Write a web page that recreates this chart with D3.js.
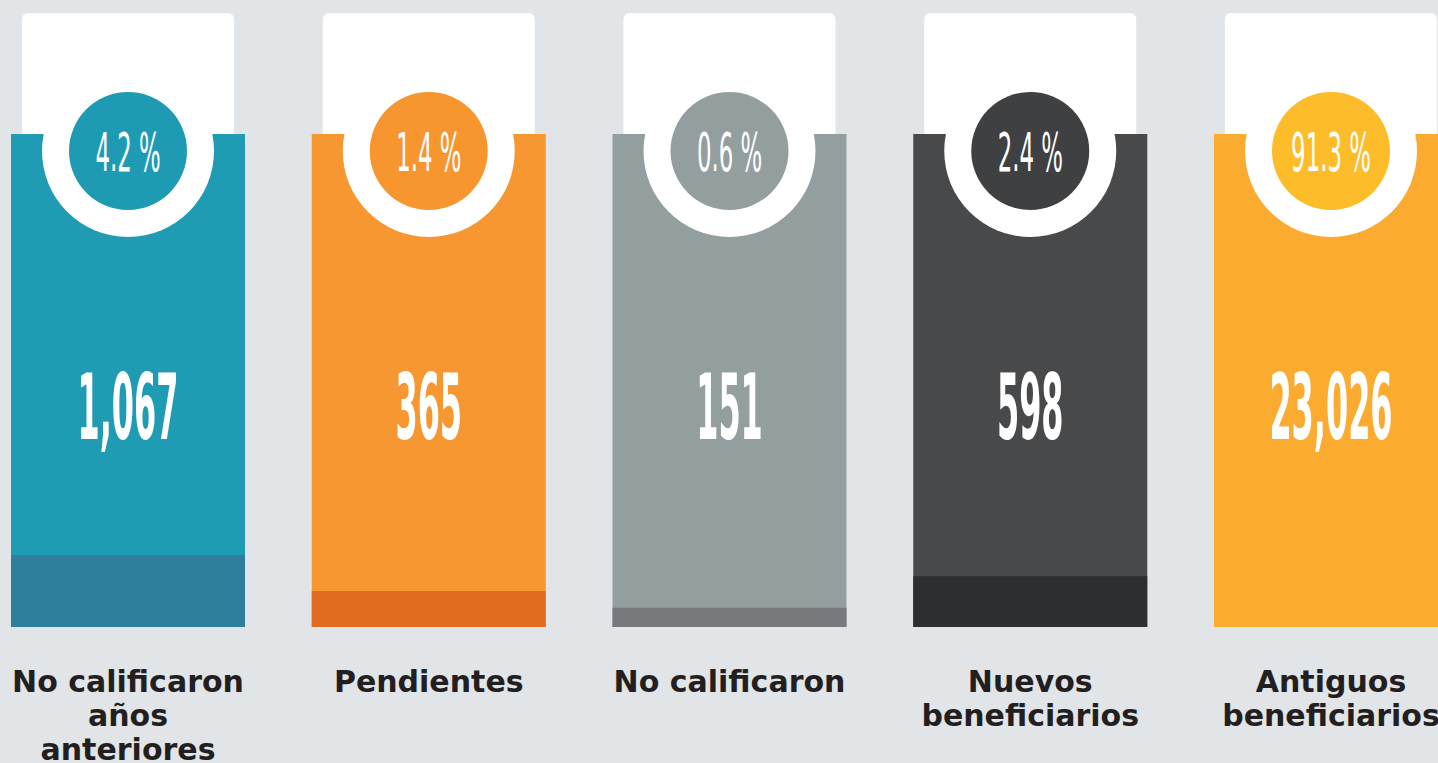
<!DOCTYPE html>
<html>
<head>
<meta charset="utf-8">
<script src="https://cdn.jsdelivr.net/npm/d3@7"></script>
<style>
  html, body { margin: 0; padding: 0; background: #e1e5e8; overflow: hidden; }
</style>
</head>
<body>
<div id="root"></div>
<script>
const w = 1438, h = 763

// data
const categories = ["No calificaron años anteriores", "Pendientes", "No calificaron", "Nuevos beneficiarios", "Antiguos beneficiarios"]
const labelLines = [["No calificaron", "años", "anteriores"], ["Pendientes"], ["No calificaron"], ["Nuevos", "beneficiarios"], ["Antiguos", "beneficiarios"]]
const counts = [1067, 365, 151, 598, 23026]
const percents = ["4.2 %", "1.4 %", "0.6 %", "2.4 %", "91.3 %"]
// darker band at the foot of each bar, as share of the bar height
const shadeShare = [0.146, 0.073, 0.039, 0.103, 0]

const barColors = ["#1f9bb4", "#f79731", "#939e9f", "#48494b", "#faab30"]
const shadeColors = ["#2e7e9c", "#e06c1f", "#78797c", "#2d2e30", "#faab30"]
const circleColors = ["#1e9bb3", "#f7962f", "#939e9f", "#3f4042", "#fdbd2b"]

//scales
const xscale = d3.scalePoint()
    .domain(d3.range(categories.length))
    .range([128, 1331])

const barTop = 134, barBottom = 627, barW = 234, cardW = 212, cardTop = 13
const shadeScale = d3.scaleLinear()
    .domain([0, 1])
    .range([0, barBottom - barTop])

const fmt = d3.format(",")

const rows = categories.map((c, i) => ({
    i: i,
    name: c,
    lines: labelLines[i],
    count: counts[i],
    pct: percents[i],
    shade: shadeShare[i]
}))

const svg = d3.select("#root").append("svg")
    .attr("width", w)
    .attr("height", h)
    .style("display", "block")

svg.append("rect").attr("width", w).attr("height", h).attr("fill", "#e1e5e8")

const col = svg.selectAll("g.col").data(rows).enter().append("g")
    .attr("class", "col")
    .attr("transform", d => `translate(${xscale(d.i)},0)`)

// white card behind
col.append("rect")
    .attr("x", -cardW / 2)
    .attr("y", cardTop)
    .attr("width", cardW)
    .attr("height", barTop - cardTop + 20)
    .attr("rx", 6)
    .attr("fill", "#ffffff")

// bar
col.append("rect")
    .attr("x", -barW / 2)
    .attr("y", barTop)
    .attr("width", barW)
    .attr("height", barBottom - barTop)
    .attr("fill", d => barColors[d.i])

// darker foot
col.append("rect")
    .attr("x", -barW / 2)
    .attr("y", d => barBottom - shadeScale(d.shade))
    .attr("width", barW)
    .attr("height", d => shadeScale(d.shade))
    .attr("fill", d => shadeColors[d.i])

// ring
col.append("circle")
    .attr("cy", 151)
    .attr("r", 86)
    .attr("fill", "#ffffff")

col.append("circle")
    .attr("cy", 151)
    .attr("r", 59)
    .attr("fill", d => circleColors[d.i])

const condensed = "'Liberation Sans Narrow', 'DejaVu Sans Condensed', 'Arial Narrow', sans-serif"

// percentage in circle
col.append("text")
    .attr("transform", "translate(0,171) scale(0.47,1)")
    .attr("text-anchor", "middle")
    .attr("font-family", condensed)
    .attr("font-size", 54)
    .attr("fill", "#ffffff")
    .text(d => d.pct)

// big count
col.append("text")
    .attr("transform", "translate(0,439) scale(0.39,1)")
    .attr("text-anchor", "middle")
    .attr("font-family", condensed)
    .attr("font-weight", "bold")
    .attr("font-size", 91)
    .attr("fill", "#ffffff")
    .text(d => fmt(d.count))

// category label
const label = col.append("text")
    .attr("text-anchor", "middle")
    .attr("font-family", "'DejaVu Sans', sans-serif")
    .attr("font-weight", "bold")
    .attr("font-size", 30)
    .attr("fill", "#231f20")

label.selectAll("tspan").data(d => d.lines).enter().append("tspan")
    .attr("x", 0)
    .attr("y", (d, j) => 692 + j * 34)
    .text(d => d)
</script>
</body>
</html>
